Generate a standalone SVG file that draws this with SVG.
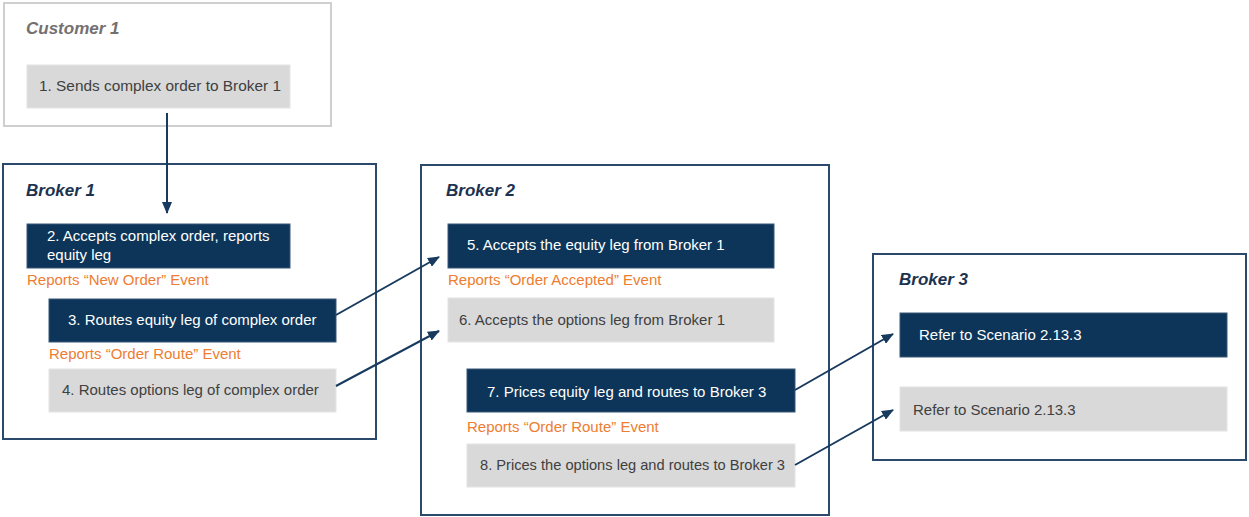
<svg xmlns="http://www.w3.org/2000/svg" width="1249" height="517" viewBox="0 0 1249 517">
<style>
  .frame { fill: #ffffff; stroke: #2b4a6b; stroke-width: 2; }
  .cframe { fill: #ffffff; stroke: #cfcfcf; stroke-width: 2; }
  .dark { fill: #0c3559; stroke: #3a5878; stroke-width: 1; }
  .light { fill: #d9d9d9; stroke: #e4e4e4; stroke-width: 1; }
  .title { font-family: "Liberation Sans", Arial, sans-serif; font-size: 17px; font-weight: bold; font-style: italic; fill: #1c3350; }
  .ctitle { font-family: "Liberation Sans", Arial, sans-serif; font-size: 17px; font-weight: bold; font-style: italic; fill: #757070; }
  .wt { font-family: "Liberation Sans", Arial, sans-serif; font-size: 15px; fill: #ffffff; }
  .gt { font-family: "Liberation Sans", Arial, sans-serif; font-size: 15px; fill: #404040; }
  .ot { font-family: "Liberation Sans", Arial, sans-serif; font-size: 15px; fill: #ed7d31; }
  .conn { stroke: #173a5e; stroke-width: 2; fill: none; marker-end: url(#arr); }
</style>
<defs>
  <marker id="arr" viewBox="0 0 12 10" refX="11" refY="5" markerWidth="12" markerHeight="10" orient="auto" markerUnits="userSpaceOnUse">
    <path d="M0,0 L12,5 L0,10 z" fill="#173a5e"/>
  </marker>
</defs>

<g id="customer1">
  <rect class="cframe" x="4" y="3" width="327" height="123"/>
  <text class="ctitle" x="26" y="34">Customer 1</text>
  <g id="step1">
    <rect class="light" x="27" y="65" width="263" height="43"/>
    <text class="gt" x="39" y="91" textLength="242" lengthAdjust="spacingAndGlyphs">1. Sends complex order to Broker 1</text>
  </g>
</g>

<g id="broker1">
  <rect class="frame" x="3" y="164" width="373" height="275"/>
  <text class="title" x="26" y="196">Broker 1</text>
  <g id="step2">
    <rect class="dark" x="27" y="224" width="263" height="44"/>
    <text class="wt" x="47" y="241">2. Accepts complex order, reports</text>
    <text class="wt" x="47" y="260">equity leg</text>
  </g>
  <text class="ot" x="27" y="285">Reports “New Order” Event</text>
  <g id="step3">
    <rect class="dark" x="49" y="299" width="287" height="43"/>
    <text class="wt" x="68" y="325">3. Routes equity leg of complex order</text>
  </g>
  <text class="ot" x="49" y="359">Reports “Order Route” Event</text>
  <g id="step4">
    <rect class="light" x="49" y="369" width="287" height="43"/>
    <text class="gt" x="62" y="395">4. Routes options leg of complex order</text>
  </g>
</g>

<g id="broker2">
  <rect class="frame" x="421" y="165" width="408" height="350"/>
  <text class="title" x="446" y="196">Broker 2</text>
  <g id="step5">
    <rect class="dark" x="448" y="224" width="326" height="44"/>
    <text class="wt" x="467" y="250">5. Accepts the equity leg from Broker 1</text>
  </g>
  <text class="ot" x="448" y="285">Reports “Order Accepted” Event</text>
  <g id="step6">
    <rect class="light" x="448" y="298" width="326" height="44"/>
    <text class="gt" x="459" y="325">6. Accepts the options leg from Broker 1</text>
  </g>
  <g id="step7">
    <rect class="dark" x="467" y="369" width="328" height="43"/>
    <text class="wt" x="487" y="397">7. Prices equity leg and routes to Broker 3</text>
  </g>
  <text class="ot" x="467" y="432">Reports “Order Route” Event</text>
  <g id="step8">
    <rect class="light" x="467" y="444" width="328" height="43"/>
    <text class="gt" x="480" y="470" textLength="305" lengthAdjust="spacingAndGlyphs">8. Prices the options leg and routes to Broker 3</text>
  </g>
</g>

<g id="broker3">
  <rect class="frame" x="873" y="254" width="373" height="206"/>
  <text class="title" x="899" y="285">Broker 3</text>
  <g id="step9">
    <rect class="dark" x="900" y="313" width="327" height="44"/>
    <text class="wt" x="919" y="340">Refer to Scenario 2.13.3</text>
  </g>
  <g id="step10">
    <rect class="light" x="900" y="387" width="327" height="44"/>
    <text class="gt" x="913" y="415">Refer to Scenario 2.13.3</text>
  </g>
</g>

<g id="connectors">
  <line class="conn" x1="167" y1="113" x2="167" y2="213"/>
  <line class="conn" x1="336" y1="315" x2="439" y2="257"/>
  <line class="conn" x1="336" y1="386" x2="439" y2="331"/>
  <line class="conn" x1="795" y1="390" x2="893" y2="334"/>
  <line class="conn" x1="795" y1="465" x2="893" y2="410"/>
</g>
</svg>
